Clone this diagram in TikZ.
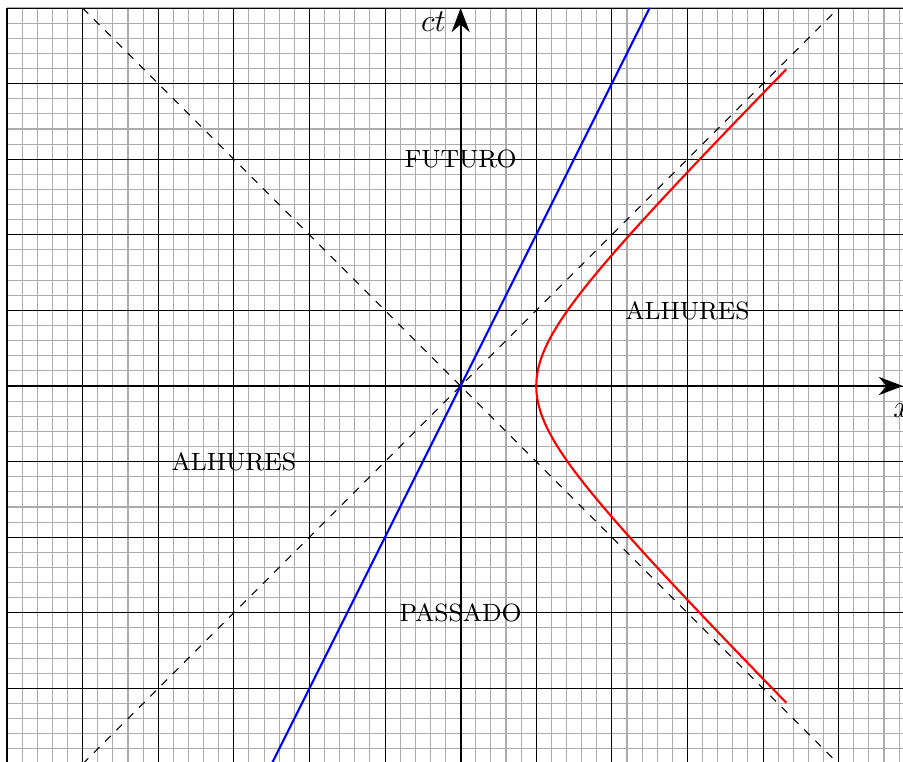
\documentclass[tikz,border=0pt]{standalone}
\usepackage{amsmath}
\usepackage{xcolor}
\usepackage{tikz}
\usetikzlibrary{arrows.meta, positioning}

\begin{document}
\begin{tikzpicture}[
	fino/.style={step=0.2, draw=gray!65, line width=0.4pt},
	grosso/.style={step=1, draw=black, line width=0.4pt},
	eixo/.style={-{Stealth[length=3.2mm, width=2.4mm]}, draw=black, line width=0.8pt},
	cone/.style={dashed, draw=black, line width=0.4pt},
	mundo/.style={draw=blue, line width=0.8pt},
	hiper/.style={draw=red, line width=0.8pt},
	rot/.style={font=\fontsize{9.4}{11}\selectfont, inner sep=1pt},
	rotx/.style={font=\large, inner sep=1pt}
	]
\useasboundingbox (-6.093,-4.960) rectangle (5.851,5.106);
\clip (-6.093,-4.960) rectangle (5.851,5.106);

% malha
\draw[fino] (-6,-5) grid (6,5);
\draw[grosso] (-6,-5) grid (6,5);

% eixos
\coordinate (o) at (0,0);
\coordinate (xa) at (-6,0);
\coordinate (xb) at (5.85,0);
\coordinate (ta) at (0,-5);
\coordinate (tb) at (0,5);
\draw[eixo] (xa) -- (xb);
\draw[eixo] (ta) -- (tb);
\node[rotx] (lx) at (5.84,-0.33) {$x$};
\node[rotx] (lt) at (-0.36,4.82) {$ct$};

% cone de luz
\coordinate (c1) at (-5,-5);
\coordinate (c2) at (5,5);
\coordinate (c3) at (-5,5);
\coordinate (c4) at (5,-5);
\draw[cone] (c1) -- (c2);
\draw[cone] (c3) -- (c4);

% linha de universo e hiperbole
\coordinate (m1) at (-2.5,-5);
\coordinate (m2) at (2.5,5);
\draw[mundo] (m1) -- (o) -- (m2);
\draw[hiper] plot[domain=-4.19:4.19, samples=80, smooth, variable=\t]
	({sqrt(1+\t*\t)},{\t});

% regioes
\node[rot] (fut) at (0,3)   {FUTURO};
\node[rot] (pas) at (0,-3)  {PASSADO};
\node[rot] (al1) at (3,1)   {ALHURES};
\node[rot] (al2) at (-3,-1) {ALHURES};
\end{tikzpicture}
\end{document}
